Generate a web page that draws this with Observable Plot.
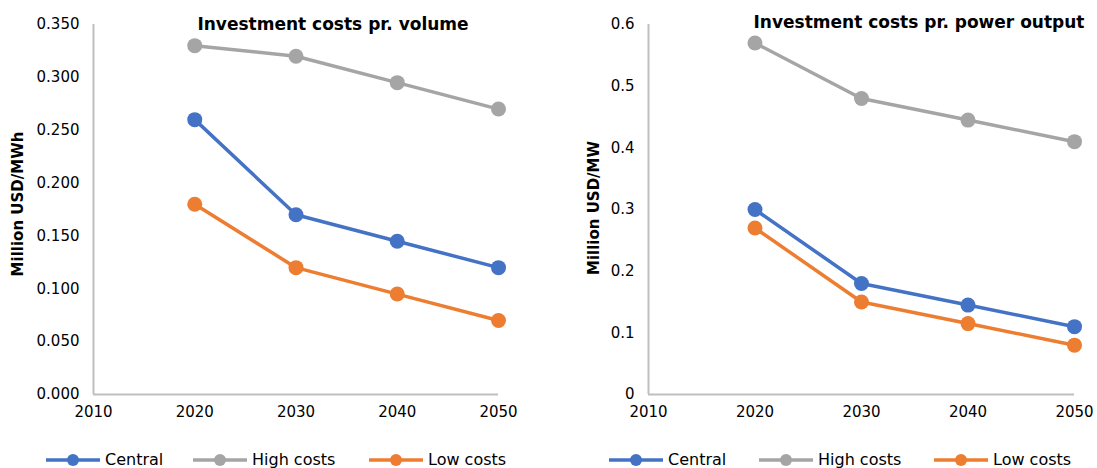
<!DOCTYPE html>
<html>
<head>
<meta charset="utf-8">
<script src="https://cdn.jsdelivr.net/npm/d3@7"></script>
<script src="https://cdn.jsdelivr.net/npm/@observablehq/plot@0.6"></script>
<style>
  body { margin: 0; background: #fff; font-family: "DejaVu Sans", sans-serif; }
  #wrap { position: relative; width: 1097px; height: 468px; overflow: hidden; }
  .panel { position: absolute; top: 0; }
  .title { position: absolute; font-weight: 700; font-size: 17px; line-height: 20px; color: #000; white-space: nowrap; transform: translateX(-50%); }
  .ylab { position: absolute; font-weight: 700; font-size: 15px; line-height: 17px; color: #000; white-space: nowrap;
          transform: translate(-50%, -50%) rotate(-90deg); }
  .legend .item { position: absolute; top: 451px; height: 17px; display: flex; align-items: center;
                  white-space: nowrap; font-size: 16px; line-height: 17px; color: #000; }
  .legend svg { margin-right: 4px; }
</style>
</head>
<body>
<div id="wrap"></div>
<script>
// Scenario years and series
const years = [2020, 2030, 2040, 2050];
const scenarios = ["Central", "High costs", "Low costs"];
const colors = ["#4472C4", "#A5A5A5", "#ED7D31"];

// Investment costs per volume (million USD/MWh)
const volCentral = [0.26, 0.17, 0.145, 0.12];
const volHigh = [0.33, 0.32, 0.295, 0.27];
const volLow = [0.18, 0.12, 0.095, 0.07];

// Investment costs per power output (million USD/MW)
const powCentral = [0.30, 0.18, 0.145, 0.11];
const powHigh = [0.57, 0.48, 0.445, 0.41];
const powLow = [0.27, 0.15, 0.115, 0.08];

const xTicks = [2010, 2020, 2030, 2040, 2050];
const volTicks = [0, 0.05, 0.1, 0.15, 0.2, 0.25, 0.3, 0.35];
const powTicks = [0, 0.1, 0.2, 0.3, 0.4, 0.5, 0.6];

function toRows(seriesList) {
  const rows = [];
  seriesList.forEach((vals, i) => {
    vals.forEach((v, j) => rows.push({ scenario: scenarios[i], year: years[j], value: v }));
  });
  return rows;
}

function panel({ rows, yMax, yTicks, yFormat, width, marginLeft, marginRight }) {
  return Plot.plot({
    width, height: 440,
    marginLeft, marginRight, marginTop: 24, marginBottom: 46,
    style: { fontFamily: "DejaVu Sans, sans-serif", fontSize: "15px", color: "#000", background: "transparent", overflow: "visible" },
    x: { domain: [2010, 2050], ticks: xTicks, tickFormat: "d", tickSize: 0, tickPadding: 12, label: null },
    y: { domain: [0, yMax], ticks: yTicks, tickFormat: yFormat, tickSize: 0, tickPadding: 14, label: null },
    color: { domain: scenarios, range: colors },
    marks: [
      Plot.ruleY([0], { stroke: "#BFBFBF", strokeWidth: 2 }),
      Plot.ruleX([2010], { stroke: "#BFBFBF", strokeWidth: 2 }),
      Plot.line(rows, { x: "year", y: "value", z: "scenario", stroke: "scenario", strokeWidth: 3.5 }),
      Plot.dot(rows, { x: "year", y: "value", fill: "scenario", r: 7.5 })
    ]
  });
}

const wrap = document.getElementById("wrap");

function addPanel(left, chart) {
  const d = document.createElement("div");
  d.className = "panel";
  d.style.left = left + "px";
  d.appendChild(chart);
  wrap.appendChild(d);
}

function addText(cls, text, x, y) {
  const d = document.createElement("div");
  d.className = cls;
  d.textContent = text;
  d.style.left = x + "px";
  d.style.top = y + "px";
  wrap.appendChild(d);
}

function addLegend(positions) {
  const lg = document.createElement("div");
  lg.className = "legend";
  scenarios.forEach((s, i) => {
    const item = document.createElement("div");
    item.className = "item";
    item.style.left = positions[i] + "px";
    const svg = d3.create("svg").attr("width", 55).attr("height", 17);
    svg.append("line").attr("x1", 0).attr("x2", 54).attr("y1", 9).attr("y2", 9)
      .attr("stroke", colors[i]).attr("stroke-width", 3.5);
    svg.append("circle").attr("cx", 27).attr("cy", 9).attr("r", 6).attr("fill", colors[i]);
    item.appendChild(svg.node());
    const t = document.createElement("span");
    t.textContent = s;
    item.appendChild(t);
    lg.appendChild(item);
  });
  wrap.appendChild(lg);
}

addPanel(0, panel({
  rows: toRows([volCentral, volHigh, volLow]),
  yMax: 0.35, yTicks: volTicks, yFormat: ".3f",
  width: 548, marginLeft: 93, marginRight: 50
}));
addPanel(548, panel({
  rows: toRows([powCentral, powHigh, powLow]),
  yMax: 0.6, yTicks: powTicks, yFormat: d => d === 0 ? "0" : d.toFixed(1),
  width: 549, marginLeft: 100, marginRight: 23
}));

addText("title", "Investment costs pr. volume", 333, 14);
addText("title", "Investment costs pr. power output", 919, 12);
addText("ylab", "Million USD/MWh", 18, 204);
addText("ylab", "Million USD/MW", 594, 208);

addLegend([46, 193, 369]);
addLegend([609, 759, 934]);
</script>
</body>
</html>
